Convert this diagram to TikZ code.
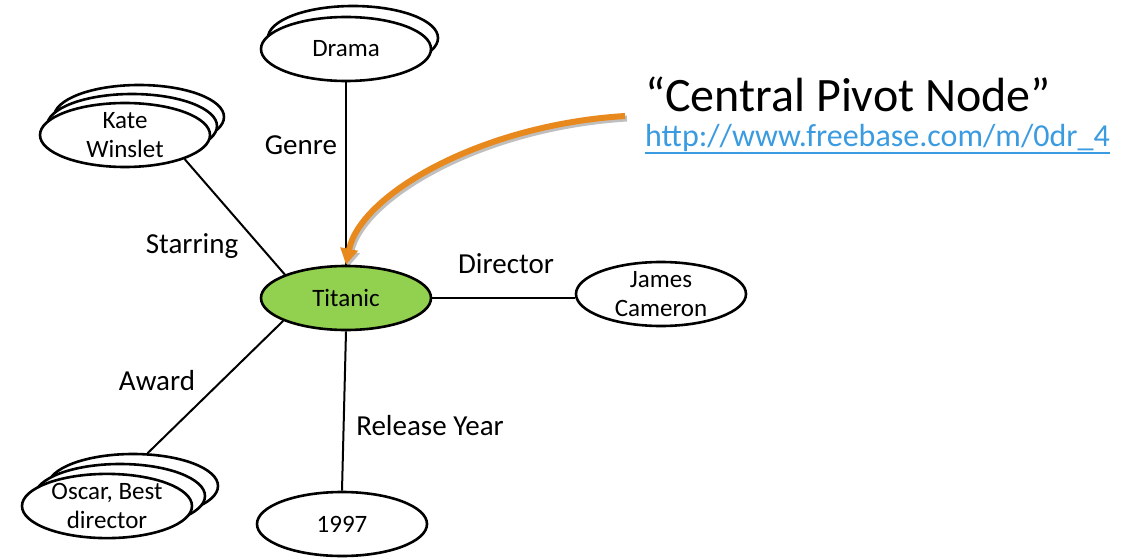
\documentclass[tikz,border=0pt]{standalone}
\usepackage{fontspec}
\setmainfont{Carlito}
\usetikzlibrary{shapes.geometric,arrows.meta,backgrounds}
\definecolor{titgreen}{HTML}{92D050}
\definecolor{arroworange}{HTML}{E8891E}
\definecolor{linkblue}{HTML}{3A9BE0}
\begin{document}
\begin{tikzpicture}[x=1pt,y=-1pt,
  ent/.style={ellipse, draw=black, line width=2.6pt, fill=white, minimum width=170pt, minimum height=64pt, inner sep=0pt, align=center, font=\fontsize{25}{29}\selectfont},
  rel/.style={font=\fontsize{29}{34}\selectfont, inner sep=0pt},
  conn/.style={draw=black, line width=2pt},
  pointer/.style={line width=6pt, -{Triangle[length=16pt,width=17pt]}}]
\useasboundingbox (0,0) rectangle (1139,559);

% entity nodes (stacked ones drawn back to front)
\node[ent] (drama2) at (353,38) {};
\node[ent] (drama) at (346,49) {Drama};
\node[ent] (kate3) at (139,117) {};
\node[ent] (kate2) at (132,126) {};
\node[ent] (kate) at (125,135) {Kate\\Winslet};
\node[ent, fill=titgreen] (titanic) at (346,298) {Titanic};
\node[ent] (james) at (661,294) {James\\Cameron};
\node[ent] (oscar3) at (133,486) {};
\node[ent] (oscar2) at (120,496) {};
\node[ent] (oscar) at (107,506) {Oscar, Best\\director};
\node[ent] (y1997) at (342,524) {1997};

% relation labels
\node[rel] (lgenre) at (301,145) {Genre};
\node[rel] (lstar) at (192,246) {Starring};
\node[rel] (ldir) at (506,264) {Director};
\node[rel] (laward) at (157,381) {Award};
\node[rel] (lyear) at (430,426) {Release Year};

% connectors
\begin{pgfonlayer}{background}
\draw[conn] (drama) -- (titanic);
\draw[conn] (kate.-22) -- (titanic.159);
\draw[conn] (titanic.east) -- (titanic.east -| james.west);
\draw[conn] (titanic.200) -- (oscar3.66);
\draw[conn] (titanic.south) -- (y1997.north);
\end{pgfonlayer}

% annotation
\node[anchor=base west, font=\fontsize{48}{56}\selectfont, inner sep=0pt] (pivot) at (645,112) {“Central Pivot Node”};
\node[anchor=base west, font=\fontsize{32}{38}\selectfont, text=linkblue, inner sep=0pt] (url) at (645,146) {http://www.freebase.com/m/0dr\_4};
\draw[linkblue, line width=2pt] ([yshift=-7pt]url.base west) -- ([yshift=-7pt]url.base east);

\coordinate (astart) at (625,116);
\begin{pgfonlayer}{background}
\draw[pointer, draw=black!25, transform canvas={shift={(2pt,-2.5pt)}}] (astart) .. controls (480,125) and (360,195) .. (titanic.north);
\end{pgfonlayer}
\draw[pointer, draw=arroworange] (astart) .. controls (480,125) and (360,195) .. (titanic.north);
\end{tikzpicture}
\end{document}
